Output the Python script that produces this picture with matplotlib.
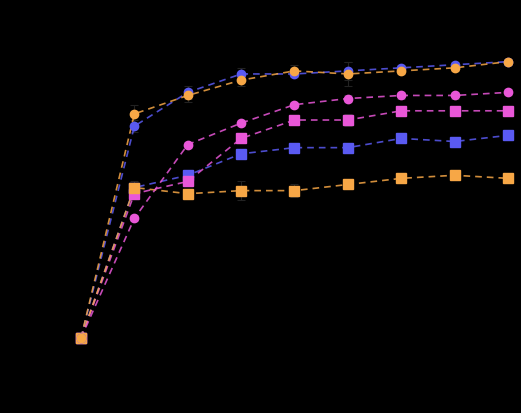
import matplotlib
matplotlib.use("Agg")
import matplotlib.pyplot as plt

plt.rcParams['font.family'] = ['Liberation Serif', 'DejaVu Serif']

tiempo = [0, 12, 24, 36, 48, 60, 72, 84, 96]

blue_circ = [0, 69, 80, 86, 86, 87, 88, 89, 90]
blue_circ_err = [0, 2, 2, 2, 1, 3, 1, 1, 1]
orange_circ = [0, 73, 79, 84, 87, 86, 87, 88, 90]
orange_circ_err = [0, 3, 2, 2, 2, 4, 1, 1, 1]
magenta_circ = [0, 39, 63, 70, 76, 78, 79, 79, 80]
magenta_circ_err = [0, 1, 1, 1, 1, 1, 1, 1, 1]
magenta_sq = [0, 47, 51, 65, 71, 71, 74, 74, 74]
magenta_sq_err = [0, 1, 1, 1, 1, 2, 1, 1, 1]
blue_sq = [0, 49, 53, 60, 62, 62, 65, 64, 66]
blue_sq_err = [0, 1, 1, 1, 1, 1, 1, 1, 1]
orange_sq = [0, 49, 47, 48, 48, 50, 52, 53, 52]
orange_sq_err = [0, 2, 1, 3, 2, 1, 1, 1, 1]

BLUE = '#5a5af2'
ORANGE = '#f7a746'
MAGENTA = '#e957d8'

series = [
    (blue_sq, blue_sq_err, BLUE, 's'),
    (magenta_sq, magenta_sq_err, MAGENTA, 's'),
    (orange_sq, orange_sq_err, ORANGE, 's'),
    (magenta_circ, magenta_circ_err, MAGENTA, 'o'),
    (blue_circ, blue_circ_err, BLUE, 'o'),
    (orange_circ, orange_circ_err, ORANGE, 'o'),
]

fig = plt.figure(figsize=(5.21, 4.13), dpi=100, facecolor='black')
ax = fig.add_axes([0.1555, 0.1816, 0.975 - 0.1555, 0.925 - 0.1816])
ax.set_facecolor('black')

for vals, errs, col, mk in series:
    ax.errorbar(tiempo, vals, yerr=errs, fmt='none', ecolor='#222222',
                elinewidth=0.8, capsize=3, capthick=0.8, clip_on=False, zorder=2)
    ax.plot(tiempo, vals, linestyle='--', color=col, alpha=0.85, linewidth=1.2,
            dashes=(4, 3), clip_on=False, zorder=3)
    ax.plot(tiempo, vals, linestyle='none', marker=mk, color=col,
            markersize=6.5 if mk == 's' else 6, clip_on=False, zorder=4)

ax.set_xlim(0, 96)
ax.set_ylim(0, 100)
ax.set_xticks(tiempo)
ax.set_yticks([0, 20, 40, 60, 80, 100])
ax.tick_params(colors='black', labelcolor='black', labelsize=13, length=0, pad=6)
for lab in ax.get_xticklabels() + ax.get_yticklabels():
    lab.set_fontweight('bold')
for sp in ax.spines.values():
    sp.set_color('black')

ax.set_xlabel('Tiempo, h', fontsize=17, fontweight='bold', color='black', labelpad=4)
ax.set_ylabel('Transformación, %', fontsize=17, fontweight='bold', color='black', labelpad=6)

fig.savefig('out.png', dpi=100, facecolor='black')
